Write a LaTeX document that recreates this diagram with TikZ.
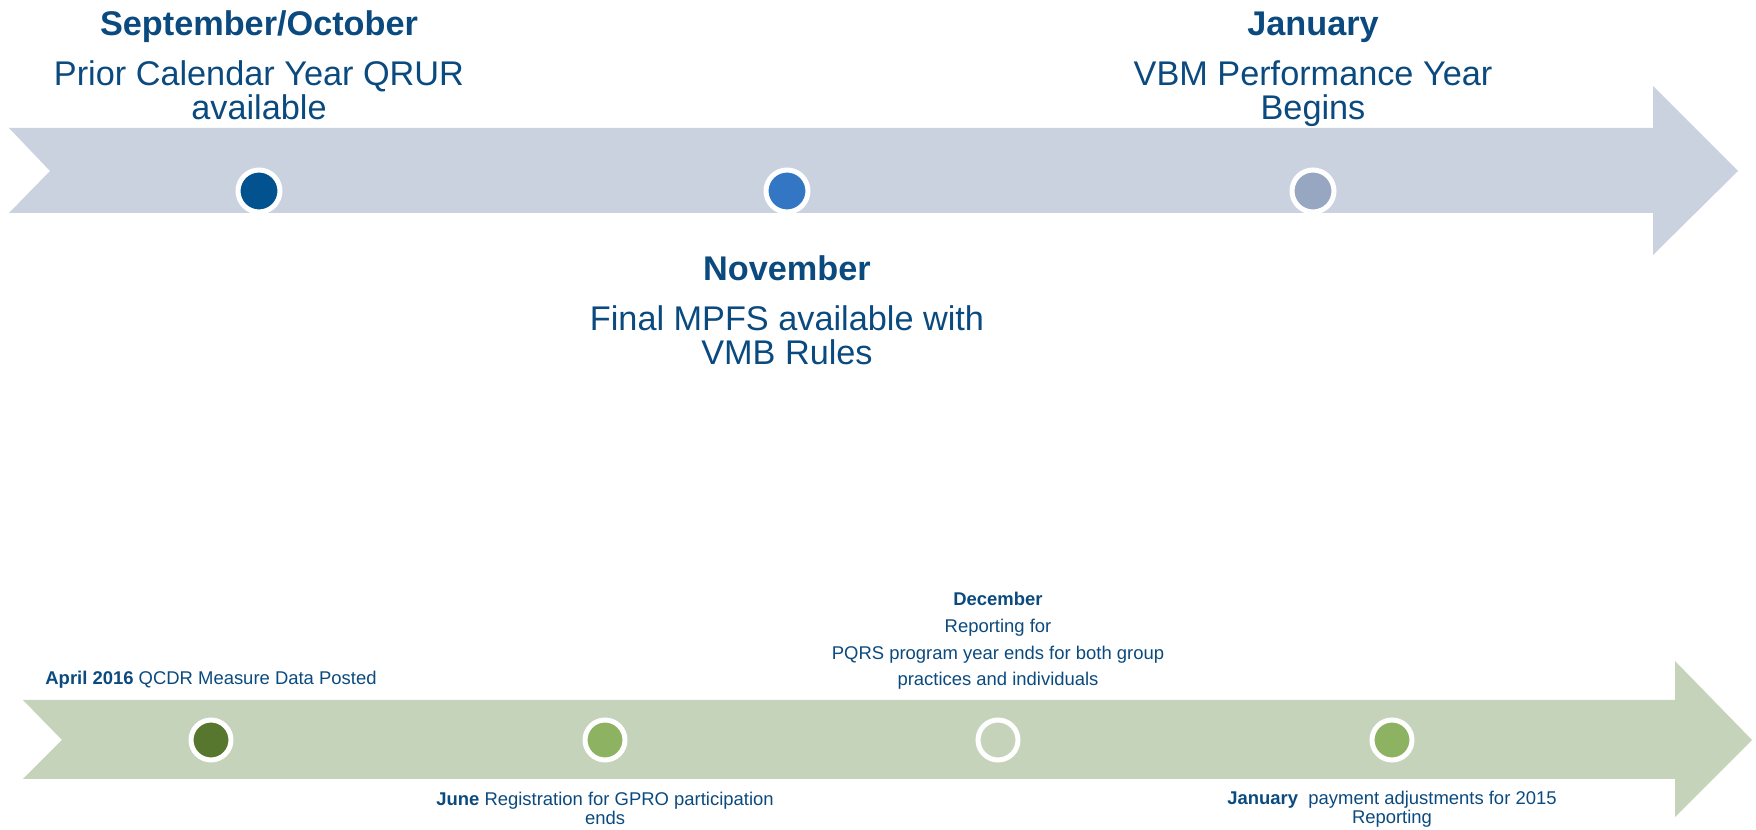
\documentclass[tikz,border=0pt]{standalone}
\usepackage{fontspec}
\setmainfont{Liberation Sans}
\usepackage{tikz}
\definecolor{TimeInk}{HTML}{0B4A7E}
\definecolor{BandGrey}{HTML}{CBD2DF}
\definecolor{BandGreen}{HTML}{C5D3BA}
\definecolor{DotNavy}{HTML}{02528F}
\definecolor{DotBlue}{HTML}{3276C4}
\definecolor{DotSlate}{HTML}{97A6C1}
\definecolor{DotOlive}{HTML}{57772F}
\definecolor{DotLeaf}{HTML}{8DB262}

\begin{document}
\begin{tikzpicture}[x=0.02cm, y=-0.02cm,
  bigdot/.style={circle, draw=white, line width=0.1cm,
                 minimum size=0.84cm, inner sep=0pt},
  smalldot/.style={circle, draw=white, line width=0.1cm,
                   minimum size=0.8cm, inner sep=0pt},
  headline/.style={text=TimeInk, align=center, anchor=base, inner sep=0pt,
                   font=\fontsize{19.5}{19.6}\selectfont},
  note/.style={text=TimeInk, align=center, anchor=base, inner sep=0pt,
               font=\fontsize{10.5}{11.1}\selectfont}
]
\useasboundingbox (0,0) rectangle (1756,830);

% upper timeline band
\fill[BandGrey] (9,128) -- (1653,128) -- (1653,86) -- (1738,171)
  -- (1653,255) -- (1653,213) -- (9,213) -- (50,171) -- cycle;
\node[bigdot, fill=DotNavy] (sep) at (259,191) {};
\node[bigdot, fill=DotBlue] (nov) at (787,191) {};
\node[bigdot, fill=DotSlate] (jan) at (1313,191) {};

% labels sit on the baseline of their last line
\node[headline] (septext) at (259,120)
  {\textbf{September/October}\\[8.7pt]
   Prior Calendar Year QRUR\\available};
\node[headline] (novtext) at (787,365)
  {\textbf{November}\\[8.7pt]
   Final MPFS available with\\VMB Rules};
\node[headline] (jantext) at (1313,120)
  {\textbf{January}\\[8.7pt]
   VBM Performance Year\\Begins};

% lower timeline band
\fill[BandGreen] (23,700) -- (1675,700) -- (1675,661) -- (1752,740)
  -- (1675,817) -- (1675,779) -- (23,779) -- (62,740) -- cycle;
\node[smalldot, fill=DotOlive] (apr) at (211,740) {};
\node[smalldot, fill=DotLeaf] (jun) at (605,740) {};
\node[smalldot, fill=none] (dec) at (998,740) {};
\node[smalldot, fill=DotLeaf] (pay) at (1392,740) {};

\node[note] (aprtext) at (211,685)
  {\textbf{April 2016} QCDR Measure Data Posted};
\node[note] (juntext) at (605,825)
  {\textbf{June} Registration for GPRO participation\\ends};
\node[note, font=\fontsize{10.5}{15.3}\selectfont] (dectext) at (998,686)
  {\textbf{December}\\Reporting for\\
   PQRS program year ends for both group\\practices and individuals};
\node[note] (paytext) at (1392,824)
  {\textbf{January}\ \ payment adjustments for 2015\\Reporting};
\end{tikzpicture}
\end{document}
